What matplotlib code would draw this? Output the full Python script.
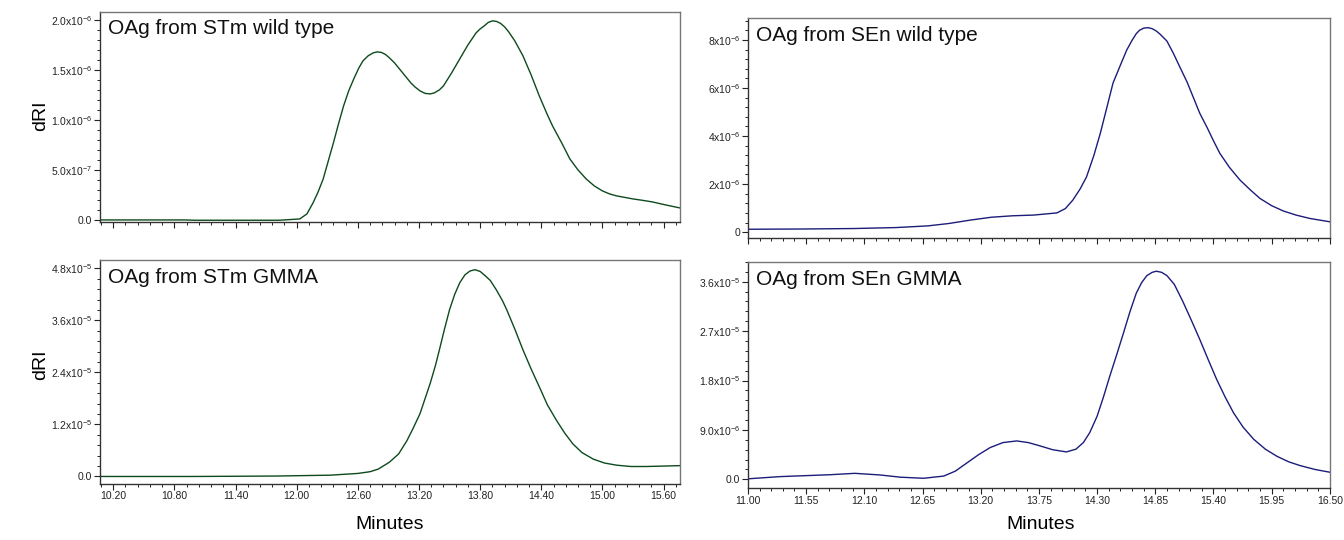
import matplotlib

matplotlib.use("Agg")
import matplotlib.pyplot as plt
from matplotlib.ticker import AutoMinorLocator, FixedLocator, MultipleLocator

plt.rcParams["font.family"] = ["Liberation Sans", "DejaVu Sans"]
plt.rcParams["mathtext.fontset"] = "custom"
plt.rcParams["mathtext.rm"] = "Liberation Sans"
plt.rcParams["mathtext.it"] = "Liberation Sans"
plt.rcParams["mathtext.default"] = "regular"

# -- data (minutes, dRI) ----------------------------------------------------- #
stm_wt_t = [10.07, 10.90, 11.00, 11.83, 12.03, 12.10, 12.16, 12.21, 12.26, 12.31, 12.36,
            12.41, 12.46, 12.51, 12.56, 12.61, 12.65, 12.70, 12.75, 12.79, 12.83, 12.87,
            12.91, 12.96, 13.00, 13.04, 13.08, 13.12, 13.16, 13.21, 13.26, 13.31, 13.35,
            13.40, 13.44, 13.52, 13.60, 13.68, 13.76, 13.80, 13.84, 13.88, 13.92, 13.96,
            14.00, 14.04, 14.08, 14.14, 14.22, 14.30, 14.38, 14.46, 14.51, 14.60, 14.68,
            14.76, 14.84, 14.92, 15.00, 15.07, 15.14, 15.22, 15.30, 15.40, 15.49, 15.62,
            15.76]
stm_wt_v = [0.0, 0.0, -0.003, -0.003, 0.01, 0.06, 0.17, 0.28, 0.41, 0.59, 0.77,
            0.96, 1.14, 1.29, 1.41, 1.52, 1.59, 1.64, 1.67, 1.68, 1.675, 1.655,
            1.62, 1.57, 1.52, 1.47, 1.42, 1.37, 1.33, 1.29, 1.265, 1.26, 1.27,
            1.30, 1.34, 1.47, 1.61, 1.75, 1.87, 1.91, 1.94, 1.975, 1.99, 1.985,
            1.965, 1.93, 1.88, 1.79, 1.64, 1.45, 1.24, 1.05, 0.94, 0.77, 0.61,
            0.50, 0.41, 0.34, 0.29, 0.26, 0.24, 0.225, 0.21, 0.195, 0.18, 0.15,
            0.12]

stm_gmma_t = [10.07, 11.00, 11.80, 12.33, 12.60, 12.72, 12.80, 12.91, 13.00, 13.08, 13.14,
              13.21, 13.26, 13.31, 13.36, 13.40, 13.45, 13.50, 13.55, 13.60, 13.65, 13.70,
              13.75, 13.80, 13.85, 13.90, 13.96, 14.02, 14.06, 14.14, 14.22, 14.30, 14.38,
              14.46, 14.55, 14.63, 14.71, 14.80, 14.91, 15.02, 15.14, 15.28, 15.43, 15.60,
              15.76]
stm_gmma_v = [0.0, 0.0, 0.01, 0.03, 0.07, 0.11, 0.17, 0.33, 0.52, 0.82, 1.10,
              1.45, 1.80, 2.15, 2.55, 2.92, 3.40, 3.85, 4.20, 4.47, 4.65, 4.74,
              4.77, 4.73, 4.63, 4.52, 4.30, 4.05, 3.85, 3.40, 2.92, 2.48, 2.07,
              1.65, 1.29, 1.00, 0.75, 0.55, 0.40, 0.31, 0.26, 0.23, 0.23, 0.24,
              0.25]

sen_wt_t = [11.00, 11.50, 12.00, 12.40, 12.70, 12.90, 13.10, 13.30, 13.50, 13.70, 13.92,
            14.00, 14.07, 14.14, 14.20, 14.27, 14.33, 14.39, 14.45, 14.52, 14.58, 14.63,
            14.67, 14.70, 14.74, 14.78, 14.82, 14.86, 14.90, 14.96, 15.02, 15.08, 15.15,
            15.21, 15.27, 15.34, 15.40, 15.46, 15.55, 15.65, 15.75, 15.84, 15.95, 16.06,
            16.18, 16.31, 16.50]
sen_wt_v = [0.12, 0.13, 0.15, 0.19, 0.26, 0.36, 0.50, 0.62, 0.68, 0.71, 0.80,
            0.98, 1.33, 1.80, 2.30, 3.20, 4.11, 5.15, 6.20, 6.95, 7.58, 7.98,
            8.26, 8.40, 8.49, 8.51, 8.47, 8.37, 8.22, 7.95, 7.45, 6.89, 6.25,
            5.60, 4.95, 4.35, 3.80, 3.28, 2.70, 2.17, 1.75, 1.40, 1.10, 0.88,
            0.71, 0.57, 0.43]

sen_gmma_t = [11.00, 11.30, 11.78, 12.01, 12.25, 12.44, 12.66, 12.85, 12.96, 13.07, 13.18,
              13.29, 13.41, 13.54, 13.65, 13.76, 13.88, 14.01, 14.10, 14.17, 14.23, 14.30,
              14.36, 14.42, 14.49, 14.55, 14.61, 14.67, 14.72, 14.77, 14.82, 14.86, 14.91,
              14.96, 15.03, 15.11, 15.19, 15.27, 15.35, 15.43, 15.51, 15.59, 15.68, 15.78,
              15.89, 16.00, 16.11, 16.22, 16.36, 16.50]
sen_gmma_v = [0.01, 0.05, 0.085, 0.11, 0.08, 0.04, 0.02, 0.06, 0.15, 0.30, 0.45,
              0.58, 0.67, 0.70, 0.67, 0.61, 0.54, 0.50, 0.55, 0.67, 0.85, 1.15,
              1.50, 1.88, 2.30, 2.67, 3.05, 3.39, 3.58, 3.71, 3.77, 3.79, 3.77,
              3.71, 3.55, 3.24, 2.90, 2.55, 2.18, 1.82, 1.50, 1.21, 0.95, 0.73,
              0.55, 0.42, 0.32, 0.25, 0.18, 0.13]

panels = [
    dict(t=stm_wt_t, v=stm_wt_v, title="OAg from STm wild type",
         yticks=[0.0, 0.5, 1.0, 1.5, 2.0],
         ylabels=["0.0", "5.0x10$^{-7}$", "1.0x10$^{-6}$", "1.5x10$^{-6}$", "2.0x10$^{-6}$"],
         ylim=(-0.02, 2.08), color="#0d4a1c", pos=[0.0744, 0.589, 0.4315, 0.389],
         side="left", bottom=False),
    dict(t=stm_gmma_t, v=stm_gmma_v, title="OAg from STm GMMA",
         yticks=[0.0, 1.2, 2.4, 3.6, 4.8],
         ylabels=["0.0", "1.2x10$^{-5}$", "2.4x10$^{-5}$", "3.6x10$^{-5}$", "4.8x10$^{-5}$"],
         ylim=(-0.17, 5.0), color="#0d4a1c", pos=[0.0744, 0.104, 0.4315, 0.415],
         side="left", bottom=True),
    dict(t=sen_wt_t, v=sen_wt_v, title="OAg from SEn wild type",
         yticks=[0, 2, 4, 6, 8],
         ylabels=["0", "2x10$^{-6}$", "4x10$^{-6}$", "6x10$^{-6}$", "8x10$^{-6}$"],
         ylim=(-0.25, 8.92), color="#1c1c7a", pos=[0.5565, 0.559, 0.433, 0.408],
         side="right", bottom=False),
    dict(t=sen_gmma_t, v=sen_gmma_v, title="OAg from SEn GMMA",
         yticks=[0.0, 0.9, 1.8, 2.7, 3.6],
         ylabels=["0.0", "9.0x10$^{-6}$", "1.8x10$^{-5}$", "2.7x10$^{-5}$", "3.6x10$^{-5}$"],
         ylim=(-0.16, 3.96), color="#1c1c7a", pos=[0.5565, 0.096, 0.433, 0.419],
         side="right", bottom=True),
]

left_xticks = [10.20, 10.80, 11.40, 12.00, 12.60, 13.20, 13.80, 14.40, 15.00, 15.60]
right_xticks = [11.00, 11.55, 12.10, 12.65, 13.20, 13.75, 14.30, 14.85, 15.40, 15.95, 16.50]

fig = plt.figure(figsize=(13.44, 5.4), dpi=100)

for p in panels:
    ax = fig.add_axes(p["pos"])
    ax.plot(p["t"], p["v"], color=p["color"], lw=1.0, solid_joinstyle="round")
    ax.set_ylim(*p["ylim"])
    ax.yaxis.set_major_locator(FixedLocator(p["yticks"]))
    ax.set_yticklabels(p["ylabels"])
    ax.yaxis.set_minor_locator(AutoMinorLocator(5))
    if p["side"] == "left":
        ax.set_xlim(10.07, 15.76)
        ax.xaxis.set_major_locator(FixedLocator(left_xticks))
        ax.xaxis.set_minor_locator(MultipleLocator(0.12))
        ax.set_xticklabels([f"{x:.2f}" for x in left_xticks])
    else:
        ax.set_xlim(11.0, 16.5)
        ax.xaxis.set_major_locator(FixedLocator(right_xticks))
        ax.xaxis.set_minor_locator(AutoMinorLocator(5))
        ax.set_xticklabels([f"{x:.2f}" for x in right_xticks])
    if not p["bottom"]:
        ax.tick_params(axis="x", which="both", labelbottom=False)
    ax.tick_params(which="major", direction="out", length=4, width=0.8,
                   labelsize=7.5, pad=1.5, colors="#222222")
    ax.tick_params(which="minor", direction="out", length=2, width=0.7, colors="#222222")
    for name, sp in ax.spines.items():
        sp.set_linewidth(1.0)
        sp.set_color("#333333" if name in ("left", "bottom") else "#777777")
    ax.text(0.014, 0.965, p["title"], transform=ax.transAxes, fontsize=15,
            ha="left", va="top", color="#111111")

fig.text(0.030, 0.785, "dRI", rotation=90, fontsize=14, ha="center", va="center")
fig.text(0.030, 0.325, "dRI", rotation=90, fontsize=14, ha="center", va="center")
fig.text(0.290, 0.028, "Minutes", fontsize=14, ha="center", va="center")
fig.text(0.774, 0.028, "Minutes", fontsize=14, ha="center", va="center")

fig.savefig("out.png", dpi=100)
